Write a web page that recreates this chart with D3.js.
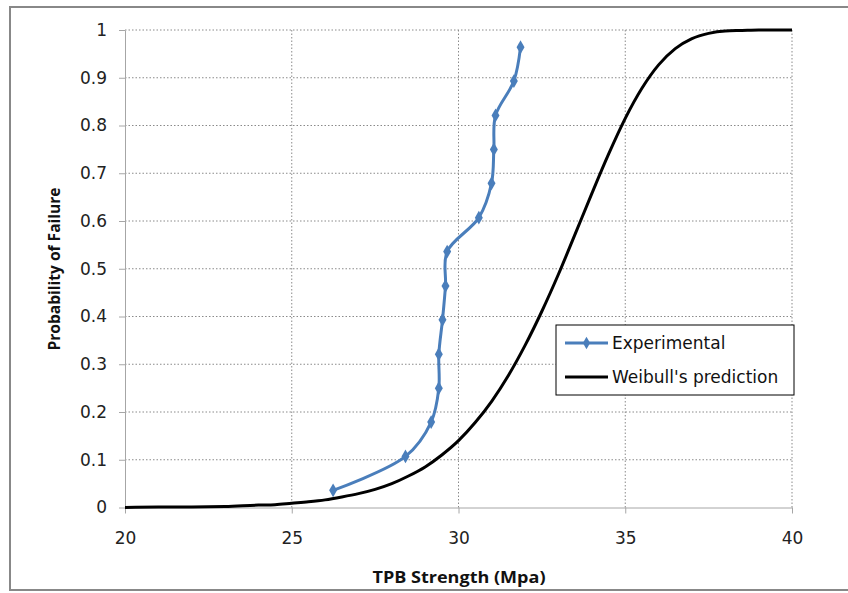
<!DOCTYPE html>
<html>
<head>
<meta charset="utf-8">
<script src="https://cdn.jsdelivr.net/npm/d3@7"></script>
<style>
  body { margin: 0; background: #fff; }
  svg { display: block; }
</style>
</head>
<body>
<div id="chart"></div>
<script>
// experimental points
const expStrength = [26.24, 28.41, 29.18, 29.41, 29.41, 29.52, 29.61, 29.66, 30.61, 30.99, 31.06, 31.11, 31.66, 31.86];
const expProb = [0.036, 0.107, 0.179, 0.25, 0.321, 0.393, 0.464, 0.536, 0.607, 0.679, 0.75, 0.821, 0.893, 0.964];

// Weibull's prediction curve
const weibullStrength = [20, 21, 22, 23, 24, 24.5, 25, 25.5, 26, 26.5, 27, 27.5, 28, 28.5, 29, 29.5, 30, 30.5, 31, 31.5, 32, 32.5, 33, 33.5, 34, 34.5, 35, 35.5, 36, 36.5, 37, 37.5, 38, 38.5, 39, 40];
const weibullProb = [0, 0.001, 0.001, 0.002, 0.005, 0.006, 0.009, 0.012, 0.016, 0.022, 0.029, 0.038, 0.05, 0.066, 0.085, 0.11, 0.14, 0.178, 0.223, 0.277, 0.34, 0.411, 0.489, 0.573, 0.658, 0.74, 0.815, 0.878, 0.927, 0.961, 0.982, 0.993, 0.998, 0.999, 1, 1];

const xTicks = [20, 25, 30, 35, 40];
const yTicks = [0, 0.1, 0.2, 0.3, 0.4, 0.5, 0.6, 0.7, 0.8, 0.9, 1];
const seriesNames = ["Experimental", "Weibull's prediction"];

const width = 848, height = 593;
const plot = { left: 125, right: 792, top: 30, bottom: 507.5 };
const blue = "#4a7ebb";
const tickFont = "'DejaVu Sans', sans-serif";

const svg = d3.select("#chart").append("svg")
    .attr("width", width).attr("height", height);

// outer chart border
svg.append("rect")
    .attr("x", 10).attr("y", 7)
    .attr("width", 860).attr("height", 583)
    .attr("fill", "#fff")
    .attr("stroke", "#888").attr("stroke-width", 2);

const xScale = d3.scaleLinear().domain([20, 40]).range([plot.left, plot.right]);
const yScale = d3.scaleLinear().domain([0, 1]).range([plot.bottom, plot.top]);

// gridlines
svg.append("g").selectAll("line")
    .data(yTicks.filter(d => d > 0))
    .join("line")
    .attr("x1", plot.left).attr("x2", plot.right)
    .attr("y1", d => yScale(d)).attr("y2", d => yScale(d))
    .attr("stroke", "#8a8a8a").attr("stroke-dasharray", "1.5,2");

svg.append("g").selectAll("line")
    .data(xTicks.filter(d => d > 20))
    .join("line")
    .attr("x1", d => xScale(d)).attr("x2", d => xScale(d))
    .attr("y1", plot.top).attr("y2", plot.bottom)
    .attr("stroke", "#8a8a8a").attr("stroke-dasharray", "1.5,2");

// axes
const yAxis = svg.append("g")
    .attr("transform", `translate(${plot.left},0)`)
    .call(d3.axisLeft(yScale).tickValues(yTicks).tickSizeInner(6).tickSizeOuter(0).tickPadding(12)
        .tickFormat(d => String(+d.toFixed(1))));

const xAxis = svg.append("g")
    .attr("transform", `translate(0,${plot.bottom})`)
    .call(d3.axisBottom(xScale).tickValues(xTicks).tickSizeInner(6).tickSizeOuter(0).tickPadding(18));

[yAxis, xAxis].forEach(ax => {
    ax.select(".domain").attr("stroke", "#a6a6a6");
    ax.selectAll(".tick line").attr("stroke", "#a6a6a6");
    ax.selectAll("text")
        .attr("font-family", tickFont)
        .attr("font-size", 17)
        .attr("fill", "#222");
});

// axis titles
svg.append("text")
    .text("TPB Strength (Mpa)")
    .attr("x", 459).attr("y", 583)
    .attr("text-anchor", "middle")
    .attr("font-family", "'Open Sans', sans-serif")
    .attr("font-weight", "bold")
    .attr("font-size", 16)
    .attr("textLength", 173).attr("lengthAdjust", "spacingAndGlyphs")
    .attr("fill", "#111");

svg.append("text")
    .text("Probability of Failure")
    .attr("transform", "translate(60,269) rotate(-90)")
    .attr("text-anchor", "middle")
    .attr("font-family", "'Open Sans', sans-serif")
    .attr("font-weight", "bold")
    .attr("font-size", 16)
    .attr("textLength", 163).attr("lengthAdjust", "spacingAndGlyphs")
    .attr("fill", "#111");

// Weibull curve
const weibullData = weibullStrength.map((s, i) => ({ x: s, y: weibullProb[i] }));
svg.append("path")
    .datum(weibullData)
    .attr("fill", "none")
    .attr("stroke", "#000")
    .attr("stroke-width", 3)
    .attr("d", d3.line().x(d => xScale(d.x)).y(d => yScale(d.y)).curve(d3.curveMonotoneX));

// experimental curve
const expData = expStrength.map((s, i) => ({ x: s, y: expProb[i] }));
svg.append("path")
    .datum(expData)
    .attr("fill", "none")
    .attr("stroke", blue)
    .attr("stroke-width", 3)
    .attr("d", d3.line().x(d => xScale(d.x)).y(d => yScale(d.y)).curve(d3.curveCatmullRom.alpha(0.5)));

svg.append("g").selectAll("path")
    .data(expData)
    .join("path")
    .attr("transform", d => `translate(${xScale(d.x)},${yScale(d.y)})`)
    .attr("d", d3.symbol(d3.symbolDiamond, 55))
    .attr("fill", blue);

// legend
const legend = svg.append("g").attr("transform", "translate(556,325)");
legend.append("rect")
    .attr("width", 238).attr("height", 70)
    .attr("fill", "#fff").attr("stroke", "#000").attr("stroke-width", 1);

const legendRows = legend.selectAll("g.row")
    .data(seriesNames)
    .join("g")
    .attr("class", "row")
    .attr("transform", (d, i) => `translate(0,${i === 0 ? 18 : 52})`);

legendRows.append("line")
    .attr("x1", 9).attr("x2", 52)
    .attr("stroke", (d, i) => i === 0 ? blue : "#000")
    .attr("stroke-width", 3);

legendRows.filter((d, i) => i === 0).append("path")
    .attr("transform", "translate(30.5,0)")
    .attr("d", d3.symbol(d3.symbolDiamond, 45))
    .attr("fill", blue);

legendRows.append("text")
    .text(d => d)
    .attr("x", 56).attr("y", 6)
    .attr("font-family", tickFont)
    .attr("font-size", 17)
    .attr("fill", "#111");
</script>
</body>
</html>
